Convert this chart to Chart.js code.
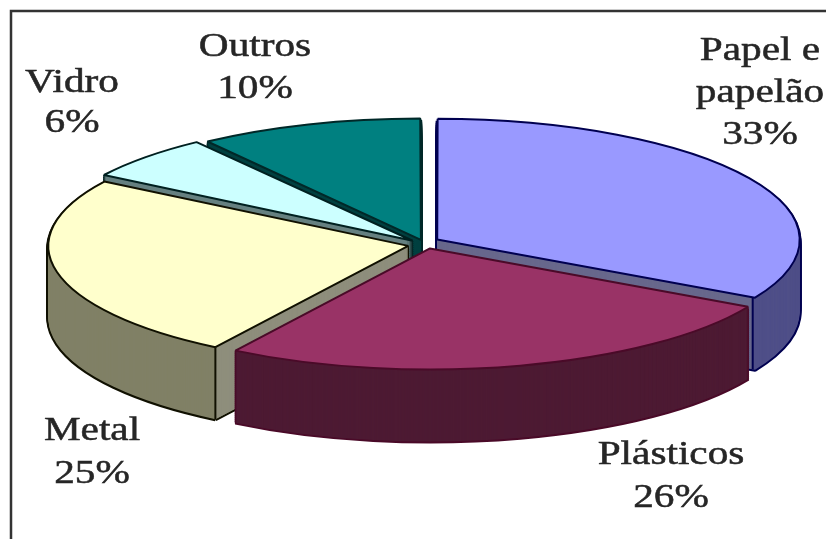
<!DOCTYPE html>
<html>
<head>
<meta charset="utf-8">
<style>
  html, body { margin: 0; background: #fff; }
  canvas { display: block; }
</style>
<script src="https://cdn.jsdelivr.net/npm/chart.js@4/dist/chart.umd.min.js"></script>
</head>
<body>
<canvas id="pie" width="826" height="539"></canvas>
<script>
// Composition of the waste stream, percent by material
const categories = ['Papel e papelão', 'Plásticos', 'Metal', 'Vidro', 'Outros'];
const shares = [33, 26, 25, 6, 10];

// Face, wall and outline colours per slice
const faceColors = ['#9999FF', '#993366', '#FFFFCC', '#CCFFFF', '#008080'];
const wallColors = ['#4F4F88', '#4D1A33', '#808066', '#668080', '#004040'];
const edgeColors = ['#000050', '#4A0A28', '#101000', '#002020', '#002828'];
const cutFaceColors = ['#68688C', null, '#8E8E7C', null, null];
const cutFaceAngles = ['endAngle', null, 'startAngle', null, null];
const explode = [80, 80, 48, 40, 40];

// Fine placement and size corrections per slice
const shiftX = [0, 5, 0, 0, 4];
const shiftY = [0, -1, 2, 0, 0];
const radiusExtra = [0, 3, 0, 0, 0];

// Label lines and their anchors
const labelLines = [['Papel e', 'papelão', '33%'], ['Plásticos', '26%'], ['Metal', '25%'], ['Vidro', '6%'], ['Outros', '10%']];
const labelCenters = [760, 671, 92, 72, 255];
const labelBaselines = [[60, 102, 144], [464, 507], [440, 483], [92, 132], [56, 98]];

const TILT = 1 / 3;       // vertical squash of the disc
const DEPTH = 72;         // wall height in pixels
const PAINT_ORDER = [4, 3, 0, 2, 1];

function withOptions(arc, overrides, fn) {
  const saved = arc.options;
  arc.options = Object.assign(Object.create(saved), overrides);
  fn();
  arc.options = saved;
}

const tiltedPie = {
  id: 'tiltedPie',
  beforeDatasetsDraw(chart) {
    const ctx = chart.ctx;
    const arcs = chart.getDatasetMeta(0).data;
    const cy = arcs[0].y;

    // Keep outline width even: strokes ignore the squash applied to the path
    const nativeStroke = ctx.stroke;
    ctx.stroke = function () {
      this.save();
      this.setTransform(1, 0, 0, 1, 0, 0);
      nativeStroke.call(this);
      this.restore();
    };

    PAINT_ORDER.forEach(i => {
      const arc = arcs[i];
      const baseRadius = arc.outerRadius;
      arc.outerRadius = baseRadius + radiusExtra[i];

      const at = (drop, fn) => {
        ctx.save();
        ctx.translate(shiftX[i], cy + drop + shiftY[i]);
        ctx.scale(1, TILT);
        ctx.translate(0, -cy);
        fn();
        ctx.restore();
      };
      const wall = (color, stroke, step) => {
        withOptions(arc, { backgroundColor: color, borderColor: color, borderWidth: stroke }, () => {
          for (let d = DEPTH; d > 0; d -= step) at(d, () => arc.draw(ctx));
        });
      };

      // Silhouette of the wall, then its fill
      wall(edgeColors[i], 4, 2);
      wall(wallColors[i], 0, 1);

      // Straight cut face of an exploded slice, with its vertical edge
      if (cutFaceAngles[i]) {
        const mid = (arc.startAngle + arc.endAngle) / 2;
        const angle = arc[cutFaceAngles[i]];
        const reach = explode[i] / 4;
        const cornerX = arc.x + shiftX[i] + Math.cos(mid) * reach + arc.outerRadius * Math.cos(angle);
        const cornerY = cy + shiftY[i] + TILT * (Math.sin(mid) * reach + arc.outerRadius * Math.sin(angle));
        const toLeft = cutFaceAngles[i] === 'endAngle';
        ctx.save();
        ctx.beginPath();
        if (toLeft) ctx.rect(0, 0, cornerX, chart.height);
        else ctx.rect(cornerX, 0, chart.width - cornerX, chart.height);
        ctx.clip();
        wall(cutFaceColors[i], 0, 1);
        ctx.restore();
        ctx.save();
        ctx.strokeStyle = edgeColors[i];
        ctx.lineWidth = 2;
        ctx.beginPath();
        ctx.moveTo(cornerX, cornerY);
        ctx.lineTo(cornerX, cornerY + DEPTH);
        nativeStroke.call(ctx);
        ctx.restore();
      }

      // Top face
      withOptions(arc, { backgroundColor: faceColors[i], borderColor: edgeColors[i], borderWidth: 2 }, () => {
        at(0, () => arc.draw(ctx));
      });
      arc.outerRadius = baseRadius;
    });

    delete ctx.stroke;
    return false;
  },
  afterDraw(chart) {
    const ctx = chart.ctx;
    ctx.save();
    ctx.strokeStyle = '#333';
    ctx.lineWidth = 2.5;
    ctx.beginPath();
    ctx.moveTo(11, 539);
    ctx.lineTo(11, 11);
    ctx.lineTo(826, 11);
    ctx.stroke();

    ctx.fillStyle = '#262626';
    ctx.strokeStyle = '#262626';
    ctx.lineWidth = 0.5;
    ctx.font = '33px "Liberation Serif"';
    ctx.textAlign = 'center';
    ctx.textBaseline = 'alphabetic';
    labelLines.forEach((lines, i) => {
      lines.forEach((text, j) => {
        ctx.save();
        ctx.translate(labelCenters[i], labelBaselines[i][j]);
        ctx.scale(1.25, 1);
        ctx.fillText(text, 0, 0);
        ctx.strokeText(text, 0, 0);
        ctx.restore();
      });
    });
    ctx.restore();
  }
};

new Chart(document.getElementById('pie'), {
  type: 'pie',
  data: {
    labels: categories,
    datasets: [{
      data: shares,
      backgroundColor: faceColors,
      borderColor: edgeColors,
      offset: explode,
      clip: false
    }]
  },
  options: {
    responsive: false,
    animation: false,
    radius: 360,
    layout: { padding: { left: 14, bottom: 53 } },
    plugins: { legend: { display: false }, tooltip: { enabled: false } },
    events: []
  },
  plugins: [tiltedPie]
});
</script>
</body>
</html>
